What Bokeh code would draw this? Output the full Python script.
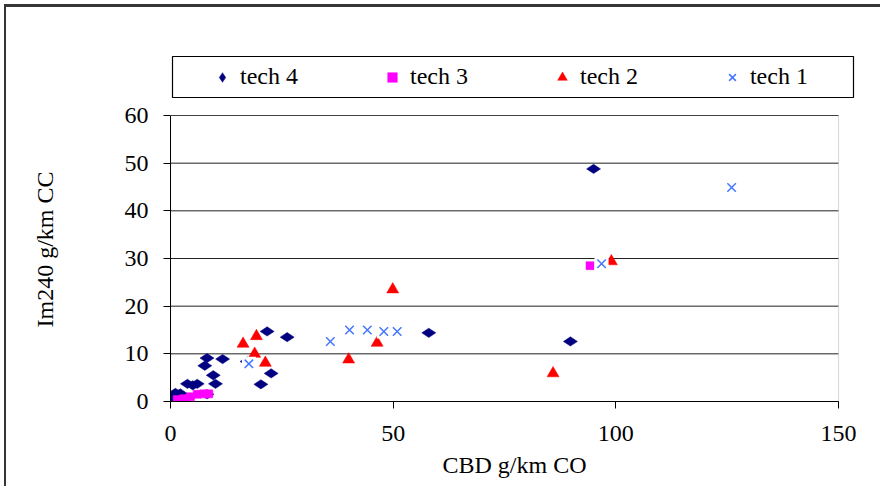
import math
from bokeh.plotting import figure
from bokeh.models import ColumnDataSource, BoxAnnotation, FixedTicker, Title
from bokeh.embed import file_html
from bokeh.resources import INLINE

# ---- data ----
tech4_x = [95.0, 89.8, 58.0, 21.7, 26.2, 22.6, 20.3, 8.2, 11.7, 7.7, 9.6, 10.1,
           3.8, 6.0, 5.0, 8.2, 0.2, 1.1, 2.2, 0.5, 17.2]
tech4_y = [48.8, 12.6, 14.4, 14.7, 13.5, 5.9, 3.6, 9.1, 8.9, 7.5, 5.5, 3.7,
           3.7, 3.7, 3.4, 1.5, 0.5, 1.8, 1.7, 0.9, 8.4]

tech3_x = [1.5, 2.7, 3.0, 3.4, 4.5, 6.0, 7.5, 8.6, 94.2]
tech3_y = [0.4, 0.2, 0.6, 0.3, 1.0, 1.5, 1.6, 1.6, 28.5]

tech2_x = [16.3, 19.3, 18.9, 21.3, 40.0, 46.4, 49.9, 85.9, 99.0]
tech2_y = [12.1, 13.7, 10.0, 8.1, 8.8, 12.3, 23.5, 5.9, 29.4]

tech1_x = [17.6, 35.9, 40.2, 44.2, 47.9, 50.9, 96.8, 126.0]
tech1_y = [7.9, 12.6, 15.0, 15.0, 14.7, 14.7, 28.9, 44.9]

x_ticks = [0, 50, 100, 150]
y_ticks = [0, 10, 20, 30, 40, 50, 60]
X_MAX = 150
Y_MAX = 60

FONT = "Liberation Serif"

# canvas origin on the page
OX, OY = 6, 7

# The frame is larger than the 0-150 x 0-60 plot area so that the legend row
# (above the plot area) is drawn inside it without clipping.
PLOT_W, PLOT_H = 668, 286
FRAME_W, FRAME_H = 688, 353
p = figure(output_backend="svg", toolbar_location=None,
           frame_width=FRAME_W, frame_height=FRAME_H,
           min_border_left=170 - OX, min_border_top=48 - OY,
           min_border_right=24, min_border_bottom=88,
           x_range=(0, X_MAX * FRAME_W / PLOT_W),
           y_range=(0, Y_MAX * FRAME_H / PLOT_H),
           background_fill_color="white", border_fill_color="white")
# outer chart border: only its left and top edges show in the picture
p.styles = {"position": "relative", "left": f"{OX}px", "top": f"{OY}px",
            "box-shadow": "-2px -3px 0px 0px #353535"}

p.outline_line_color = None
p.xgrid.grid_line_color = None
p.ygrid.grid_line_color = None

# horizontal gridlines across the plot area only
p.segment(x0=0, x1=X_MAX, y0=y_ticks, y1=y_ticks,
          line_color="#222222", line_width=1, level="underlay")
# plot-area border (gray right edge)
p.add_layout(BoxAnnotation(left=0, right=X_MAX, bottom=0, top=Y_MAX,
                           fill_alpha=0, line_color="#8c8c8c", line_width=1.2,
                           level="underlay"))

p.xaxis.ticker = FixedTicker(ticks=x_ticks)
p.yaxis.ticker = FixedTicker(ticks=y_ticks)
p.xaxis.bounds = (0, X_MAX)
p.yaxis.bounds = (0, Y_MAX)
for ax in (p.xaxis[0], p.yaxis[0]):
    ax.major_tick_in = 0
    ax.major_tick_out = 7
    ax.minor_tick_in = 0
    ax.minor_tick_out = 0
    ax.axis_line_color = "black"
    ax.major_tick_line_color = "black"
    ax.major_label_text_font = FONT
    ax.major_label_text_font_size = "24px"
    ax.major_label_text_color = "black"
    ax.axis_label_text_font = FONT
    ax.axis_label_text_font_size = "24px"
    ax.axis_label_text_font_style = "normal"
    ax.axis_label_text_color = "black"

p.xaxis.axis_label = "CBD g/km CO"
p.xaxis.major_label_standoff = 17
p.xaxis.axis_label_standoff = 8
p.yaxis.major_label_standoff = 15
p.yaxis.axis_label = " "
p.yaxis.axis_label_standoff = 30

ytitle = Title(text="Im240 g/km CC", align="left", offset=74,
               text_font=FONT, text_font_size="24px",
               text_font_style="normal", text_color="black")
p.add_layout(ytitle, "left")

s4 = ColumnDataSource(dict(x=tech4_x, y=tech4_y))
s3 = ColumnDataSource(dict(x=tech3_x, y=tech3_y))
s2 = ColumnDataSource(dict(x=tech2_x, y=tech2_y))
s1 = ColumnDataSource(dict(x=tech1_x, y=tech1_y))

p.scatter("x", "y", source=s4, marker="diamond", size=14, angle=math.pi / 2,
          fill_color="#000080", line_color="#000080", line_width=0.5,
          legend_label="tech 4")
p.scatter("x", "y", source=s3, marker="square", size=8,
          fill_color="#FF00FF", line_color="#FF00FF", line_width=0.5,
          legend_label="tech 3")
p.scatter("x", "y", source=s2, marker="triangle", size=12,
          fill_color="#FF0000", line_color="#FF0000", line_width=0.5,
          legend_label="tech 2")
# white background patch behind each x marker
p.scatter("x", "y", source=s1, marker="square", size=14,
          fill_color="white", line_color=None)
p.scatter("x", "y", source=s1, marker="x", size=12,
          line_color="#4477FF", line_width=1.5, legend_label="tech 1")

leg = p.legend[0]
leg.orientation = "horizontal"
leg.location = (40, 311)
leg.padding = 0
leg.margin = 0
leg.spacing = 82
leg.glyph_width = 24
leg.glyph_height = 24
leg.label_standoff = 6
leg.label_text_font = FONT
leg.label_text_font_size = "24px"
leg.label_text_color = "black"
leg.border_line_alpha = 0
leg.background_fill_alpha = 0

# legend frame (page box 172..853 x 56..97)
p.add_layout(BoxAnnotation(left=172 - OX, right=853 - OX,
                           top=56 - OY, bottom=97 - OY,
                           left_units="canvas", right_units="canvas",
                           top_units="canvas", bottom_units="canvas",
                           fill_alpha=0, line_color="black", line_width=1.2,
                           line_alpha=1))

open("out.html", "w").write(file_html(p, INLINE))
